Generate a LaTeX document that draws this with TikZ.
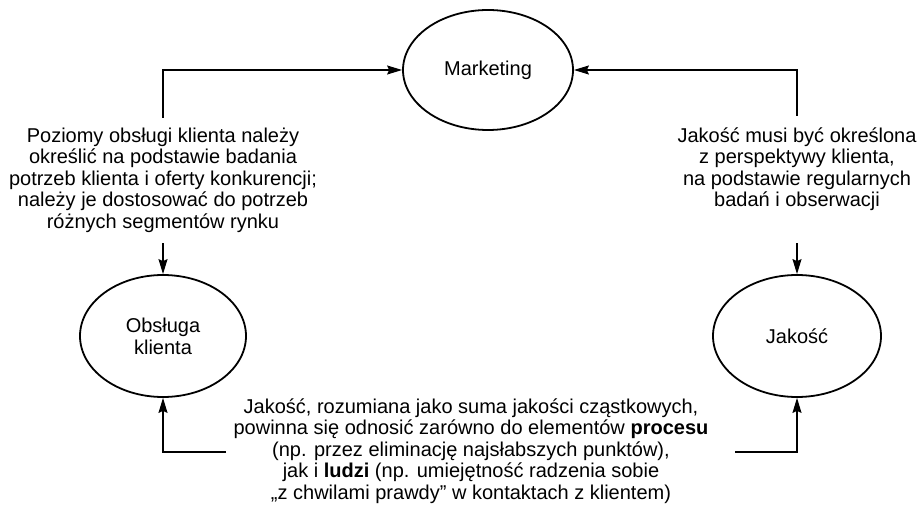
\documentclass[tikz,border=0pt]{standalone}
\usepackage{fontspec}
\setmainfont{Liberation Sans}
\usetikzlibrary{arrows.meta,shapes.geometric}
\begin{document}
\begin{tikzpicture}[x=1pt,y=-1pt,
  oval/.style={draw, line width=1.8pt, ellipse, inner sep=0pt,
    font=\fontsize{20}{22}\selectfont, align=center},
  note/.style={align=center, inner sep=0pt, font=\fontsize{20}{21.5}\selectfont},
  link/.style={line width=1.2pt, -{Stealth[length=15pt,width=9pt,inset=2pt]}},
  wire/.style={line width=1.2pt}]
\useasboundingbox (0,0) rectangle (918,505);

% the three areas
\node[oval, minimum width=170pt, minimum height=120pt] (mkt) at (488,70) {Marketing};
\node[oval, minimum width=166pt, minimum height=122pt] (obs) at (163,336) {Obsługa\\klienta};
\node[oval, minimum width=168pt, minimum height=122pt] (jak) at (797,336) {Jakość};

% explanatory notes
\node[note] (ltxt) at (163,180) {Poziomy obsługi klienta należy\\określić na podstawie badania\\potrzeb klienta i oferty konkurencji;\\należy je dostosować do potrzeb\\różnych segmentów rynku};
\node[note] (rtxt) at (797,169) {Jakość musi być określona\\z perspektywy klienta,\\na podstawie regularnych\\badań i obserwacji};
\node[note] (btxt) at (471,451) {Jakość, rozumiana jako suma jakości cząstkowych,\\powinna się odnosić zarówno do elementów \textbf{procesu}\\(np. przez eliminację najsłabszych punktów),\\jak i \textbf{ludzi} (np. umiejętność radzenia sobie\\„z chwilami prawdy” w kontaktach z klientem)};

% free ends of the connectors
\coordinate (lt) at (163,118);
\coordinate (lb) at (163,243);
\coordinate (rt) at (797,116);
\coordinate (rb) at (797,243);
\coordinate (bl) at (226,452);
\coordinate (br) at (735,452);

% connectors
\draw[link] (lt) |- (mkt.west);
\draw[link] (rt) |- (mkt.east);
\draw[link] (lb) -- (obs.north);
\draw[link] (rb) -- (jak.north);
\draw[link] (bl) -| (obs.south);
\draw[link] (br) -| (jak.south);
\end{tikzpicture}
\end{document}
